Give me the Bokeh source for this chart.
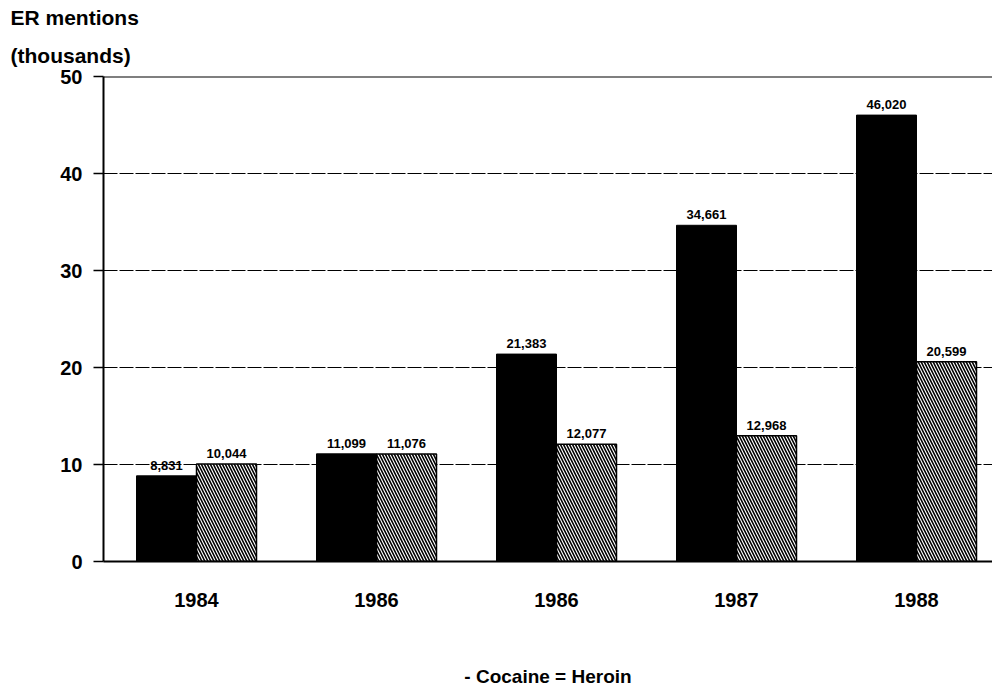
from bokeh.plotting import figure
from bokeh.models import ColumnDataSource, LabelSet, Span, FixedTicker, Title
from bokeh.core.properties import value
from bokeh.embed import file_html
from bokeh.resources import INLINE

years = ["1984", "1986", "1986", "1987", "1988"]
cocaine = [8.831, 11.099, 21.383, 34.661, 46.020]
heroin = [10.044, 11.076, 12.077, 12.968, 20.599]
tick_values = [0, 10, 20, 30, 40, 50]
tick_labels = ["0", "10", "20", "30", "40", "50"]
y_title = ["ER mentions", "(thousands)"]
legend_text = "- Cocaine = Heroin"

FONT = "Arial"
pos = list(range(len(years)))
bw = 1 / 3

p = figure(width=992, height=689, output_backend="svg", toolbar_location=None,
           x_range=(-0.5167, 4.4222), y_range=(0, 50),
           min_border_left=103, min_border_right=0, min_border_top=76, min_border_bottom=127)
p.outline_line_color = None

# y axis
p.yaxis.ticker = FixedTicker(ticks=tick_values)
p.yaxis.major_label_overrides = {v: t for v, t in zip(tick_values, tick_labels)}
p.yaxis.axis_line_width = 2
p.yaxis.axis_line_color = "black"
p.yaxis.major_tick_out = 10
p.yaxis.major_tick_in = 0
p.yaxis.major_tick_line_width = 1.5
p.yaxis.minor_tick_line_color = None
p.yaxis.major_label_standoff = 11
p.yaxis.major_label_text_font = FONT
p.yaxis.major_label_text_font_style = "bold"
p.yaxis.major_label_text_font_size = "20px"
p.yaxis.major_label_text_color = "black"

# x axis
p.xaxis.ticker = FixedTicker(ticks=pos)
p.xaxis.major_label_overrides = {i: y for i, y in enumerate(years)}
p.xaxis.axis_line_width = 2
p.xaxis.axis_line_color = "black"
p.xaxis.major_tick_line_color = None
p.xaxis.minor_tick_line_color = None
p.xaxis.major_label_standoff = 25
p.xaxis.major_label_text_font = FONT
p.xaxis.major_label_text_font_style = "bold"
p.xaxis.major_label_text_font_size = "20px"
p.xaxis.major_label_text_color = "black"
p.xaxis.axis_label = legend_text
p.xaxis.axis_label_standoff = 56
p.xaxis.axis_label_text_font = FONT
p.xaxis.axis_label_text_font_style = "bold"
p.xaxis.axis_label_text_font_size = "19px"
p.xaxis.axis_label_text_color = "black"

p.xgrid.visible = False
p.ygrid.ticker = FixedTicker(ticks=[t for t in tick_values if 0 < t < 50])
p.ygrid.grid_line_color = "black"
p.ygrid.grid_line_width = 1.2
p.ygrid.grid_line_dash = "14 2"

p.add_layout(Span(location=50, dimension="width", line_color="black", line_width=2))

src = ColumnDataSource(dict(
    xc=[x - bw / 2 for x in pos], xh=[x + bw / 2 for x in pos],
    c=cocaine, h=heroin,
    lc=[f"{v * 1000:,.0f}" for v in cocaine],
    lh=[f"{v * 1000:,.0f}" for v in heroin],
))
p.vbar(x="xc", top="c", width=bw, bottom=0, source=src, fill_color="black", line_color="black")
p.vbar(x="xh", top="h", width=bw, bottom=0, source=src, fill_color="white", line_color="black",
       line_width=1.5, hatch_pattern="\\", hatch_color="black", hatch_scale=6, hatch_weight=1.6)

for col, xcol in (("c", "xc"), ("h", "xh")):
    p.add_layout(LabelSet(x=xcol, y=col, text="l" + col, source=src, y_offset=6,
                          text_align="center", text_baseline="bottom",
                          text_font=value(FONT), text_font_style="bold",
                          text_font_size="13px", text_color="black"))

# y title (two lines, stacked above the frame; later-added sits further out)
for t, so in zip(reversed(y_title), (20, 6)):
    p.add_layout(Title(text=t, align="left", offset=-93, text_font=FONT,
                       text_font_style="bold", text_font_size="21px",
                       text_color="black", standoff=so), "above")

open("out.html", "w").write(file_html(p, INLINE))
